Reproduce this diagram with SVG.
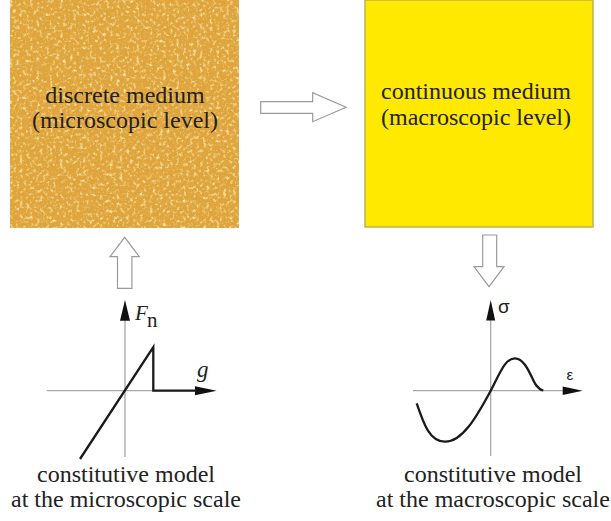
<svg xmlns="http://www.w3.org/2000/svg" width="611" height="521" viewBox="0 0 611 521">
<style>
.lbl{font-family:"Liberation Serif","DejaVu Serif","Times New Roman",serif;font-size:24px;fill:#222;text-anchor:middle}
.hollow{fill:#fff;stroke:#9a9a9a;stroke-width:1.2;stroke-linejoin:miter}
.axis{stroke:#a8a8a8;stroke-width:1.3;fill:none}
.curve{stroke:#1a1a1a;stroke-width:2.3;fill:none;stroke-linejoin:miter}
.head{fill:#111}
.sym{font-family:"Liberation Sans","DejaVu Sans",Arial,sans-serif;fill:#222}
.rm{font-family:"Liberation Serif","DejaVu Serif","Times New Roman",serif;fill:#222}
.it{font-family:"Liberation Serif","DejaVu Serif","Times New Roman",serif;font-style:italic;fill:#222}
</style>
<defs>
<filter id="lightGrain" x="0" y="0" width="1" height="1">
<feTurbulence type="fractalNoise" baseFrequency="0.3" numOctaves="2" seed="4"/>
<feColorMatrix type="matrix" values="0 0 0 0 0.96  0 0 0 0 0.80  0 0 0 0 0.40  3 0 0 0 -1.55"/>
</filter>
<filter id="darkGrain" x="0" y="0" width="1" height="1">
<feTurbulence type="fractalNoise" baseFrequency="0.32" numOctaves="2" seed="11"/>
<feColorMatrix type="matrix" values="0 0 0 0 0.74  0 0 0 0 0.50  0 0 0 0 0.14  -2.6 0 0 0 1.05"/>
</filter>
</defs>
<rect width="611" height="521" fill="#fff"/>

<g id="discrete-medium">
<rect x="10" y="0" width="229" height="228" fill="#dfa53c"/>
<rect x="10" y="0" width="229" height="228" fill="#000" filter="url(#darkGrain)"/>
<rect x="10" y="0" width="229" height="228" fill="#000" filter="url(#lightGrain)"/>
<text class="lbl" x="125" y="102.7">discrete medium</text>
<text class="lbl" x="125" y="127.9">(microscopic level)</text>
</g>

<g id="continuous-medium">
<rect x="365" y="0" width="228" height="227" fill="#ffe900" stroke="#bdb04a" stroke-width="1.4"/>
<text class="lbl" x="476" y="99">continuous medium</text>
<text class="lbl" x="476" y="124.5">(macroscopic level)</text>
</g>

<g id="micro-model">
<line class="axis" x1="125" y1="318" x2="125" y2="457"/>
<line class="axis" x1="46.7" y1="390.7" x2="198" y2="390.7"/>
<polygon class="head" points="125,300 120,320.7 130,320.7"/>
<polygon class="head" points="216.7,390.7 195,386.2 195,395.2"/>
<polyline class="curve" points="80,459 153.3,347 153.3,390.7 197,390.7"/>
<text class="it" x="135" y="320" font-size="21">F</text>
<text class="rm" x="147" y="327" font-size="21">n</text>
<text class="it" x="197" y="377" font-size="23">g</text>
<text class="lbl" x="126" y="481.7">constitutive model</text>
<text class="lbl" x="126" y="506.7">at the microscopic scale</text>
</g>

<g id="macro-model">
<line class="axis" x1="490.7" y1="318" x2="490.7" y2="456"/>
<line class="axis" x1="413" y1="390.7" x2="565" y2="390.7"/>
<polygon class="head" points="490.7,300 486.2,320.5 495.2,320.5"/>
<polygon class="head" points="582.7,390.7 562.7,386.5 562.7,394.9"/>
<path class="curve" d="M416.7,403.3 C424,425 430,441.5 445,441.7 C462,442 476,418 490.7,390.7 C500,373 505,358.3 515,358.3 C526,358.3 532,380 536,385 C539,389 541,390 543.3,390.5"/>
<text class="sym" x="498" y="312.7" font-size="19">σ</text>
<text class="sym" x="566.5" y="380" font-size="15">ε</text>
<text class="lbl" x="493" y="481.7">constitutive model</text>
<text class="lbl" x="493" y="506.7">at the macroscopic scale</text>
</g>

<g id="connectors">
<polygon class="hollow" points="260.7,101.7 312.7,101.7 312.7,92.7 346,107.3 312.7,121.7 312.7,113.3 260.7,113.3"/>
<polygon class="hollow" points="117.5,288.3 117.5,256.7 110,256.7 124.7,237.3 139.3,256.7 131.9,256.7 131.9,288.3"/>
<polygon class="hollow" points="482.7,235 482.7,266.7 474,266.7 489,286.7 504,266.7 496.7,266.7 496.7,235"/>
</g>
</svg>
